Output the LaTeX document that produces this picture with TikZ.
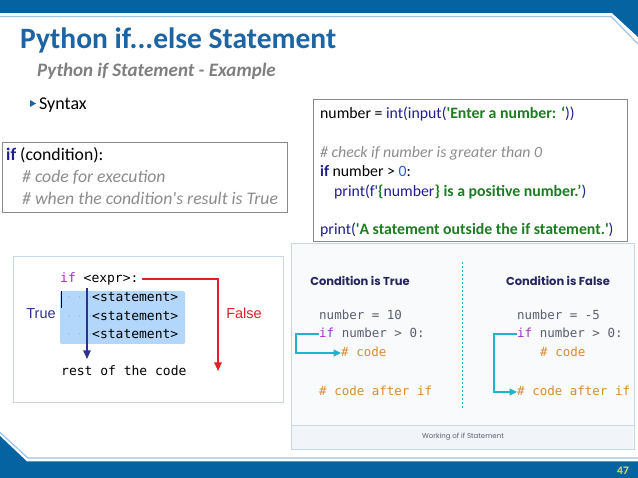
\documentclass[tikz,border=0pt]{standalone}
\usepackage{fontspec}
\setmainfont{Carlito}
\newfontfamily\codemono{DejaVu Sans Mono}
\newfontfamily\popfont{Poppins}
\newfontfamily\arialike{Liberation Sans}
\usepackage{xcolor}
\usetikzlibrary{positioning,arrows.meta,calc}
\definecolor{barblue}  {HTML}{0563A1}
\definecolor{lineblue} {HTML}{9DC3E6}
\definecolor{titleblue}{HTML}{1C64A4}
\definecolor{subgrey}  {HTML}{7F7F7F}
\definecolor{kwnavy}   {HTML}{1F1F8F}
\definecolor{strgreen} {HTML}{1E7B22}
\definecolor{numblue}  {HTML}{2C5CC5}
\definecolor{cmtgrey}  {HTML}{8C8C8C}
\definecolor{boxgrey}  {HTML}{8A8A8A}
\definecolor{imgedge}  {HTML}{C7D7E8}
\definecolor{hilite}   {HTML}{B3D7FB}
\definecolor{dotsc}    {HTML}{93B7DD}
\definecolor{truenavy} {HTML}{2E3192}
\definecolor{falsered} {HTML}{E41E26}
\definecolor{ifpurple} {HTML}{A334C0}
\definecolor{panelbg}  {HTML}{F8FAFC}
\definecolor{capbg}    {HTML}{F1F4F8}
\definecolor{cyanflow} {HTML}{1DB5CA}
\definecolor{headnavy} {HTML}{25265E}
\definecolor{codegrey} {HTML}{5B5E70}
\definecolor{cmtorange}{HTML}{D98C2E}
\definecolor{pagenum}  {HTML}{D7E34A}
\newcommand{\sq}{\textquotesingle}
\tikzset{
  txt/.style      = {anchor=base west, inner sep=0pt},
  title/.style    = {txt, text=titleblue, font=\bfseries\fontsize{29.5}{34}\selectfont},
  subtitle/.style = {txt, text=subgrey, font=\bfseries\itshape\fontsize{19}{22}\selectfont},
  bullet/.style   = {txt, text=black, font=\fontsize{18}{21}\selectfont},
  synline/.style  = {txt, text=black, font=\fontsize{17.7}{21}\selectfont},
  cmtline/.style  = {txt, text=cmtgrey, font=\itshape\fontsize{17.7}{21}\selectfont},
  codeline/.style = {txt, text=black, font=\fontsize{15.8}{19}\selectfont},
  codebox/.style  = {draw=boxgrey, line width=0.8pt, fill=white},
  monoline/.style = {txt, text=black, font=\codemono\fontsize{13}{15}\selectfont},
  dotsline/.style = {txt, text=dotsc, font=\codemono\fontsize{9}{11}\selectfont},
  sideword/.style = {anchor=base, inner sep=0pt, font=\arialike\fontsize{14.5}{17}\selectfont},
  rmono/.style    = {txt, text=codegrey, font=\codemono\fontsize{12.5}{15}\selectfont},
  rhead/.style    = {anchor=base, inner sep=0pt, text=headnavy, font=\popfont\bfseries\fontsize{11.5}{14}\selectfont},
  redflow/.style  = {-{Triangle[length=3mm,width=2.6mm]}, draw=falsered, line width=1.2pt},
  blueflow/.style = {-{Triangle[length=3mm,width=2.6mm]}, draw=truenavy, line width=1.2pt},
  cyanarrow/.style= {-{Triangle[length=2.6mm,width=2.4mm]}, draw=cyanflow, line width=1.6pt},
}
\begin{document}
\begin{tikzpicture}[x=1pt,y=-1pt]
  \useasboundingbox (0,0) rectangle (638,478);
  \fill[white] (0,0) rectangle (638,478);

  % header and footer bands
  \fill[barblue] (0,0) -- (638,0) -- (638,37) -- (612,13) -- (0,13) -- cycle;
  \draw[lineblue, line width=1.2pt] (0,16.5) -- (611,16.5) -- (638,44);
  \fill[barblue] (0,478) -- (638,478) -- (638,461.5) -- (27,461.5) -- (0,436) -- cycle;
  \draw[lineblue, line width=1.2pt] (0,432.5) -- (28,458) -- (638,458);
  \node[anchor=center, inner sep=0pt, text=pagenum, font=\bfseries\fontsize{11.5}{13}\selectfont]
    (page) at (623,471) {47};

  % titles
  \node[title]    (ttl) at (20,49) {Python if...else Statement};
  \node[subtitle] (sub) at (37,77) {Python if Statement - Example};
  \fill[titleblue] (30,100) -- (36,103.5) -- (30,107) -- cycle;
  \node[bullet]   (syn) at (39,110) {Syntax};

  % syntax box
  \draw[codebox] (2,142) rectangle (287,212);
  \node[synline] (s1) at (6,161) {\textcolor{kwnavy}{\bfseries if} (condition):};
  \node[cmtline] (s2) at (22,183) {\# code for execution};
  \node[cmtline] (s3) at (22,205) {\# when the condition\sq s result is True};

  % example code box
  \draw[codebox] (313,99) rectangle (627,241);
  \node[codeline] (c1) at (320,119) {number = \textcolor{kwnavy}{int(input(}\textcolor{strgreen}{\bfseries\sq Enter a number: `}\textcolor{kwnavy}{))}};
  \node[codeline, text=cmtgrey, font=\itshape\fontsize{15.8}{19}\selectfont] (c2) at (320,158) {\# check if number is greater than 0};
  \node[codeline] (c3) at (320,177) {\textcolor{kwnavy}{\bfseries if} number > \textcolor{numblue}{0}:};
  \node[codeline] (c4) at (334,197) {\textcolor{kwnavy}{print(f\sq}\textcolor{strgreen}{\bfseries\{}\textcolor{kwnavy}{number}\textcolor{strgreen}{\bfseries\} is a positive number.'}\textcolor{kwnavy}{)}};
  \node[codeline] (c5) at (320,235) {\textcolor{kwnavy}{print(}\textcolor{strgreen}{\bfseries\sq A statement outside the if statement.\sq}\textcolor{kwnavy}{)}};

  % left flow picture
  \draw[imgedge, line width=1pt, fill=white] (13,257) rectangle (283,403);
  \fill[hilite, rounded corners=2pt] (60,291) rectangle (185,344);
  \draw[black, line width=1pt] (61,291) -- (61,308);
  \node[dotsline] (d1) at (66,301) {· · ·};
  \node[dotsline] (d2) at (66,320) {· · ·};
  \node[dotsline] (d3) at (66,338) {· · ·};
  \node[monoline] (cond) at (60,283) {\textcolor{ifpurple}{if} <expr>:};
  \node[monoline] (st1) at (92,302) {<statement>};
  \node[monoline] (st2) at (92,321) {<statement>};
  \node[monoline] (st3) at (92,339) {<statement>};
  \node[monoline] (rest) at (61,376) {rest of the code};
  \node[sideword, text=truenavy] (tru) at (41,319) {True};
  \node[sideword, text=falsered] (fls) at (244,319) {False};
  \coordinate (fstart) at (142,279);
  \coordinate (fend)   at (218,371);
  \coordinate (tstart) at (87,288);
  \coordinate (tend)   at (87,359);
  \draw[redflow]  (fstart) -| (fend);
  \draw[blueflow] (tstart) -- (tend);

  % right flow picture
  \draw[imgedge, line width=1pt, fill=panelbg] (291,244) rectangle (634,450);
  \fill[capbg] (292,425) rectangle (633,449.5);
  \draw[imgedge, line width=0.6pt] (291,425) -- (634,425);
  \node[anchor=center, inner sep=0pt, text=codegrey, font=\popfont\fontsize{7}{9}\selectfont]
    (cap) at (463,437) {Working of if Statement};
  \draw[cyanflow, line width=1pt, dash pattern=on 2pt off 2pt] (462,262) -- (462,410);
  \node[rhead] (hT) at (360,286) {Condition is True};
  \node[rhead] (hF) at (558,286) {Condition is False};

  \node[rmono] (nA) at (319,320) {number = 10};
  \node[rmono] (iA) at (319,338) {\textcolor{ifpurple}{if} number > 0:};
  \node[rmono, text=cmtorange] (kA) at (341,357) {\# code};
  \node[rmono, text=cmtorange] (aA) at (319,396) {\# code after if};

  \node[rmono] (nB) at (517,320) {number = -5};
  \node[rmono] (iB) at (517,338) {\textcolor{ifpurple}{if} number > 0:};
  \node[rmono, text=cmtorange] (kB) at (540,357) {\# code};
  \node[rmono, text=cmtorange] (aB) at (517,396) {\# code after if};

  \draw[cyanarrow] ([yshift=4pt]iA.base west) -- ++(-23,0) |- ([yshift=4pt]kA.base west);
  \draw[cyanarrow] ([yshift=4pt]iB.base west) -- ++(-23,0) |- ([yshift=4pt]aB.base west);
\end{tikzpicture}
\end{document}
